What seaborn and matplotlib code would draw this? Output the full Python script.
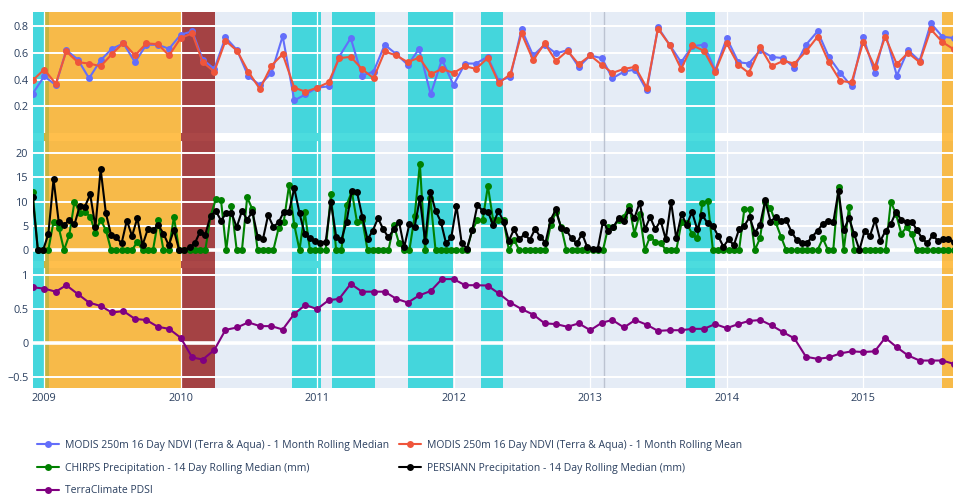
import pandas as pd
import matplotlib.pyplot as plt
import matplotlib.dates as mdates
from matplotlib.lines import Line2D
import seaborn as sns

# --- monthly series, first of month starting Dec 2008 ---
ndvi_median = [0.295, 0.425, 0.36, 0.62, 0.55, 0.41, 0.545, 0.63, 0.67, 0.53,
               0.66, 0.66, 0.63, 0.735, 0.76, 0.55, 0.48, 0.715, 0.62, 0.425,
               0.36, 0.45, 0.725, 0.245, 0.29, 0.34, 0.35, 0.57, 0.71, 0.43,
               0.46, 0.66, 0.59, 0.51, 0.63, 0.29, 0.55, 0.36, 0.52, 0.52,
               0.57, 0.39, 0.42, 0.775, 0.58, 0.66, 0.595, 0.62, 0.495, 0.58,
               0.56, 0.41, 0.46, 0.475, 0.32, 0.79, 0.66, 0.53, 0.65, 0.66,
               0.47, 0.71, 0.53, 0.52, 0.62, 0.57, 0.56, 0.49, 0.66, 0.76,
               0.57, 0.45, 0.35, 0.72, 0.45, 0.75, 0.43, 0.62, 0.54, 0.82,
               0.72, 0.71]
ndvi_mean = [0.395, 0.475, 0.37, 0.61, 0.53, 0.52, 0.50, 0.59, 0.675, 0.58,
             0.67, 0.665, 0.58, 0.71, 0.745, 0.53, 0.46, 0.69, 0.615, 0.46,
             0.33, 0.505, 0.59, 0.34, 0.31, 0.34, 0.38, 0.56, 0.57, 0.48,
             0.41, 0.61, 0.58, 0.53, 0.565, 0.44, 0.48, 0.45, 0.50, 0.48,
             0.56, 0.375, 0.44, 0.745, 0.545, 0.67, 0.54, 0.615, 0.515, 0.58,
             0.51, 0.45, 0.48, 0.495, 0.34, 0.78, 0.66, 0.48, 0.655, 0.615,
             0.46, 0.67, 0.51, 0.45, 0.64, 0.50, 0.54, 0.52, 0.61, 0.72,
             0.53, 0.39, 0.38, 0.68, 0.495, 0.72, 0.515, 0.60, 0.53, 0.775,
             0.68, 0.625]
pdsi = [0.82, 0.80, 0.755, 0.85, 0.72, 0.595, 0.545, 0.45, 0.47, 0.355,
        0.34, 0.24, 0.21, 0.08, -0.21, -0.24, -0.10, 0.195, 0.23, 0.305,
        0.25, 0.25, 0.20, 0.43, 0.56, 0.50, 0.63, 0.65, 0.87, 0.755,
        0.755, 0.755, 0.65, 0.595, 0.70, 0.765, 0.94, 0.94, 0.85, 0.85,
        0.845, 0.73, 0.595, 0.50, 0.42, 0.29, 0.28, 0.24, 0.29, 0.19,
        0.30, 0.34, 0.23, 0.34, 0.27, 0.18, 0.19, 0.19, 0.21, 0.21,
        0.28, 0.22, 0.28, 0.325, 0.34, 0.26, 0.16, 0.07, -0.20, -0.23,
        -0.21, -0.15, -0.12, -0.13, -0.12, 0.08, -0.06, -0.18, -0.255, -0.255,
        -0.255, -0.305]

# --- 14 day precipitation series (mm), starting Dec 2008 ---
persiann = [11.0, 0, 0, 3.3, 14.6, 5.7, 5.2, 6.2, 5.3, 9.1,
            9.0, 11.5, 4.8, 16.7, 7.6, 3.1, 2.6, 1.4, 6.1, 2.9,
            6.6, 1.0, 4.3, 4.1, 5.2, 3.4, 1.0, 4.1, 0, 0,
            0.55, 1.4, 3.8, 3.2, 7.1, 8.1, 6.1, 7.6, 7.7, 4.7,
            8.1, 6.3, 7.9, 2.8, 2.2, 7.2, 4.8, 5.7, 7.9, 7.9,
            12.8, 7.6, 3.3, 2.4, 1.9, 1.5, 1.7, 10.0, 2.8, 2.1,
            5.9, 12.3, 11.9, 6.9, 2.2, 4.0, 6.6, 4.3, 2.6, 4.3,
            5.9, 0.55, 5.4, 4.8, 10.7, 1.9, 12.1, 8.1, 5.9, 1.4,
            2.6, 9.1, 1.4, 0.3, 4.1, 9.3, 8.1, 7.9, 5.2, 8.1,
            5.9, 1.9, 4.3, 2.2, 3.3, 2.1, 4.3, 2.8, 1.5, 6.3,
            8.4, 4.5, 4.1, 2.4, 1.4, 3.4, 0.55, 0.3, 0.3, 5.9,
            4.0, 4.8, 6.6, 6.1, 8.3, 6.6, 9.8, 4.3, 6.8, 4.3,
            6.1, 2.2, 10.0, 2.4, 7.4, 5.2, 7.9, 4.3, 7.2, 5.5,
            5.0, 2.9, 0.7, 2.2, 1.0, 4.3, 5.0, 6.8, 3.6, 5.2,
            10.3, 5.9, 6.8, 6.1, 6.2, 3.8, 2.1, 1.4, 1.5, 2.8,
            4.0, 5.4, 6.1, 5.7, 12.2, 4.1, 6.6, 3.3, 0, 4.0,
            2.9, 6.2, 1.9, 4.0, 5.4, 7.9, 6.2, 5.7, 5.9, 4.1,
            2.4, 1.4, 3.1, 1.9, 2.2, 2.2, 1.7]
chirps = [12.1, 0, 0, 0, 5.9, 4.6, 0, 3.1, 10.0, 7.7,
          7.9, 6.9, 3.6, 6.3, 4.1, 0, 0, 0, 0, 0,
          1.7, 0, 0, 0, 6.2, 0, 0, 6.8, 0, 0,
          0, 0, 0, 0, 7.0, 10.5, 10.3, 0, 9.1, 0,
          0, 10.9, 8.4, 0, 0, 0, 0, 4.5, 5.9, 13.4,
          5.2, 0, 7.9, 0, 0, 0, 0, 11.5, 0, 0,
          9.3, 12.1, 5.7, 6.2, 0, 0, 0, 0, 0, 5.2,
          1.5, 0, 0, 7.0, 17.8, 0, 10.7, 0, 0, 0,
          0, 0, 0, 0, 4.1, 6.2, 6.2, 13.2, 6.2, 6.2,
          6.2, 0, 2.1, 0, 0, 0, 0, 0, 0, 5.2,
          7.9, 4.8, 0, 0, 0, 0, 0, 0, 0, 0,
          4.8, 4.8, 6.2, 6.9, 9.1, 3.4, 7.4, 0, 2.8, 1.7,
          1.5, 0, 0, 0, 5.7, 5.5, 3.4, 2.4, 9.8, 10.2,
          0, 0, 0, 0, 0, 0, 8.4, 8.4, 0, 2.4,
          10.0, 8.6, 5.7, 2.8, 0, 0, 0, 0, 0, 0,
          0, 2.4, 0, 0, 13.0, 0, 8.8, 0, 0, 0,
          0, 0, 0, 0, 10.0, 7.4, 3.4, 4.7, 3.3, 0,
          0, 0, 0, 0, 0, 0, 0]

# --- shaded periods ---
wet_periods = [("2008-11-01", "2009-01-13"), ("2010-10-27", "2011-01-11"),
               ("2011-02-10", "2011-06-04"), ("2011-09-02", "2011-12-30"),
               ("2012-03-14", "2012-05-13"), ("2013-09-14", "2013-12-01")]
dry_periods = [("2009-01-01", "2010-01-01"), ("2015-07-31", "2015-10-15")]
severe_periods = [("2010-01-01", "2010-04-03")]
marker_date = "2013-02-07"

monthly = pd.date_range("2008-12-01", periods=len(ndvi_median), freq="MS")
biweekly = pd.date_range("2008-12-01", periods=len(chirps), freq="14D")

sns.set_style("white")
plt.rcParams['font.family'] = ['Open Sans', 'DejaVu Sans']

W, H = 954, 497
TEXT = "#2a3f5f"
fig = plt.figure(figsize=(W / 100, H / 100), dpi=100)


def box(x0, y0, x1, y1):
    return [x0 / W, 1 - y1 / H, (x1 - x0) / W, (y1 - y0) / H]


left, right = 33, 954
panels_px = [(12.3, 133.3), (140.7, 260.7), (268.3, 388.3)]
xlim = (pd.Timestamp("2008-12-02"), pd.Timestamp("2015-09-01"))

# background layer: panel backgrounds + shaded periods spanning all panels
bg = fig.add_axes(box(left, 12.3, right, 388.3), zorder=0)
bg.set_xlim(xlim)
bg.set_ylim(388.3, 12.3)
bg.set_axis_off()
for t, b in panels_px:
    bg.axhspan(t, b, color="#E5ECF6", lw=0)
for s, e in wet_periods:
    bg.axvspan(pd.Timestamp(s), pd.Timestamp(e), color="darkturquoise", alpha=0.7, lw=0)
for s, e in dry_periods:
    bg.axvspan(pd.Timestamp(s), pd.Timestamp(e), color="orange", alpha=0.7, lw=0)
for s, e in severe_periods:
    bg.axvspan(pd.Timestamp(s), pd.Timestamp(e), color="darkred", alpha=0.72, lw=0)
bg.axvline(pd.Timestamp(marker_date), color="#bcc3d1", lw=1)

axes = [fig.add_axes(box(left, t, right, b), zorder=1) for t, b in panels_px]

sns.lineplot(x=monthly, y=ndvi_median, ax=axes[0], color="#636EFA", marker="o",
             markersize=5, markeredgewidth=0, lw=1.5, errorbar=None)
sns.lineplot(x=monthly, y=ndvi_mean, ax=axes[0], color="#EF553B", marker="o",
             markersize=5, markeredgewidth=0, lw=1.5, errorbar=None)
sns.lineplot(x=biweekly, y=chirps, ax=axes[1], color="green", marker="o",
             markersize=5, markeredgewidth=0, lw=1.5, errorbar=None)
sns.lineplot(x=biweekly, y=persiann, ax=axes[1], color="black", marker="o",
             markersize=5, markeredgewidth=0, lw=1.5, errorbar=None)
sns.lineplot(x=monthly, y=pdsi, ax=axes[2], color="purple", marker="o",
             markersize=5, markeredgewidth=0, lw=1.5, errorbar=None)

ylims = [(0.0, 0.902), (-2.2, 22.6), (-0.662, 1.098)]
yticks = [[0.2, 0.4, 0.6, 0.8], [0, 5, 10, 15, 20], [-0.5, 0, 0.5, 1]]
ylabels = [["0.2", "0.4", "0.6", "0.8"], ["0", "5", "10", "15", "20"],
           ["\u22120.5", "0", "0.5", "1"]]

for i, ax in enumerate(axes):
    ax.set_facecolor("none")
    ax.set_xlim(xlim)
    ax.set_ylim(ylims[i])
    ax.set_yticks(yticks[i], ylabels[i])
    ax.set_xlabel("")
    ax.set_ylabel("")
    ax.xaxis.set_major_locator(mdates.YearLocator())
    ax.xaxis.set_major_formatter(mdates.DateFormatter("%Y"))
    ax.grid(axis="y", color="white", lw=1.4)
    ax.grid(axis="x", color="white", lw=0.9)
    ax.set_axisbelow(True)
    for sp in ax.spines.values():
        sp.set_visible(False)
    ax.tick_params(length=0, labelsize=7.8, labelcolor=TEXT, pad=3.4)
    if i < 2:
        ax.tick_params(labelbottom=False)
    if i > 0:
        ax.axhline(0, color="white", lw=2.6, zorder=0.6)

names = ["MODIS 250m 16 Day NDVI (Terra & Aqua) - 1 Month Rolling Median",
         "CHIRPS Precipitation - 14 Day Rolling Median (mm)",
         "TerraClimate PDSI",
         "MODIS 250m 16 Day NDVI (Terra & Aqua) - 1 Month Rolling Mean",
         "PERSIANN Precipitation - 14 Day Rolling Median (mm)"]
colors = ["#636EFA", "green", "purple", "#EF553B", "black"]
handles = [Line2D([], [], color=c, lw=1.5, marker="o", markersize=5,
                  markeredgewidth=0) for c in colors]
fig.legend(handles, names, loc="upper left", bbox_to_anchor=(37 / W, 1 - 440 / H),
           ncol=2, frameon=False, fontsize=7.5, labelcolor=TEXT, borderpad=0,
           borderaxespad=0, handlelength=2.1, handletextpad=0.55,
           columnspacing=1.0, labelspacing=1.12)

fig.savefig("out.png", dpi=100)
